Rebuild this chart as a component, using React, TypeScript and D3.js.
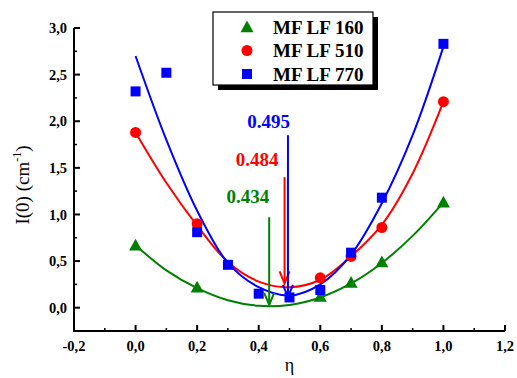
import React from "react";
import * as d3 from "d3";

// measured points
const etaGreen = [0.0, 0.2, 0.6, 0.7, 0.8, 1.0];
const valGreen = [0.67, 0.22, 0.12, 0.27, 0.49, 1.13];
const etaRed = [0.0, 0.2, 0.6, 0.7, 0.8, 1.0];
const valRed = [1.88, 0.9, 0.32, 0.55, 0.86, 2.21];
const etaBlue = [0.0, 0.1, 0.2, 0.3, 0.4, 0.5, 0.6, 0.7, 0.8, 1.0];
const valBlue = [2.32, 2.52, 0.81, 0.46, 0.15, 0.11, 0.19, 0.59, 1.18, 2.83];

// fitted curves
const fitEta = [0.0, 0.1, 0.2, 0.3, 0.4, 0.5, 0.6, 0.7, 0.8, 0.9, 1.0];
const fitGreen = [0.67, 0.4, 0.21, 0.08, 0.02, 0.03, 0.11, 0.26, 0.48, 0.77, 1.13];
const fitRed = [1.88, 1.34, 0.88, 0.49, 0.28, 0.22, 0.3, 0.55, 0.89, 1.44, 2.21];
const fitBlue = [2.7, 1.8, 1.04, 0.48, 0.22, 0.13, 0.25, 0.57, 1.12, 1.85, 2.8];

// minimum arrows: position, top, tip, label
const arrowEta = [0.434, 0.484, 0.495];
const arrowTop = [0.97, 1.4, 1.85];
const arrowTip = [0.03, 0.26, 0.115];
const arrowLabel = ["0.434", "0.484", "0.495"];
const arrowLabelY = [1.12, 1.52, 1.93];
const arrowLabelShift = [0, -6, 2];

const seriesNames = ["MF LF 160", "MF LF 510", "MF LF 770"];
const colors = ["#008000", "#ff0000", "#0000ff"];

const xTicks = [-0.2, 0.0, 0.2, 0.4, 0.6, 0.8, 1.0, 1.2];
const yTicks = [0.0, 0.5, 1.0, 1.5, 2.0, 2.5, 3.0];

const W = 517;
const H = 378;
const serif = "Liberation Serif, Times New Roman, serif";

const fmt = (v: number) => v.toFixed(1).replace(".", ",");

function Marker({ kind, x, y, color }: { kind: number; x: number; y: number; color: string }) {
  if (kind === 0) {
    const s = 6.5;
    return (
      <path
        d={`M${x},${y - s}L${x + s},${y + s * 0.8}L${x - s},${y + s * 0.8}Z`}
        fill={color}
      />
    );
  }
  if (kind === 1) return <circle cx={x} cy={y} r={5.5} fill={color} />;
  return <rect x={x - 5} y={y - 5} width={10} height={10} fill={color} />;
}

export default function App() {
  const x = d3.scaleLinear().domain([-0.2, 1.2]).range([74, 505]);
  const y = d3.scaleLinear().domain([-0.25, 3.0]).range([331, 28]);

  const line = d3
    .line<[number, number]>()
    .x((d) => x(d[0]))
    .y((d) => y(d[1]))
    .curve(d3.curveCatmullRom.alpha(0.5));

  const fits = [fitGreen, fitRed, fitBlue];
  const points = [
    etaGreen.map((e, i) => [e, valGreen[i]]),
    etaRed.map((e, i) => [e, valRed[i]]),
    etaBlue.map((e, i) => [e, valBlue[i]]),
  ];

  const xMinor = d3.range(-0.1, 1.2, 0.2);
  const yMinor = d3.range(0.25, 3.0, 0.5);

  const x0 = x(-0.2);
  const y0 = y(-0.25);

  return (
    <svg
      width={W}
      height={H}
      style={{ position: "absolute", left: 0, top: 0, background: "#fff", fontFamily: serif }}
    >
      {/* fit curves */}
      {fits.map((f, k) => (
        <path
          key={"fit" + k}
          d={line(fitEta.map((e, i) => [e, f[i]] as [number, number])) || ""}
          fill="none"
          stroke={colors[k]}
          strokeWidth={2}
        />
      ))}

      {/* data markers */}
      {points.map((pts, k) =>
        pts.map((p, i) => (
          <Marker key={`m${k}-${i}`} kind={k} x={x(p[0])} y={y(p[1])} color={colors[k]} />
        ))
      )}

      {/* minimum arrows */}
      {arrowEta.map((e, k) => {
        const ax = x(e);
        const top = y(arrowTop[k]);
        const tip = y(arrowTip[k]);
        return (
          <g key={"arr" + k} stroke={colors[k]} strokeWidth={2} fill="none">
            <line x1={ax} x2={ax} y1={top} y2={tip} />
            <polyline points={`${ax - 5},${tip - 12} ${ax},${tip} ${ax + 5},${tip - 12}`} />
            <text
              x={ax + arrowLabelShift[k]}
              y={y(arrowLabelY[k])}
              textAnchor="end"
              fontSize={19}
              fontWeight="bold"
              fill={colors[k]}
              stroke="none"
            >
              {arrowLabel[k]}
            </text>
          </g>
        );
      })}

      {/* axes */}
      <g stroke="#000" strokeWidth={2} fill="none">
        <path d={`M${x0},${y(3.0)}V${y0}H${x(1.2)}`} />
        {xTicks.map((t) => (
          <line key={"xt" + t} x1={x(t)} x2={x(t)} y1={y0} y2={y0 - 6} />
        ))}
        {xMinor.map((t) => (
          <line key={"xm" + t} x1={x(t)} x2={x(t)} y1={y0} y2={y0 - 3} strokeWidth={1.5} />
        ))}
        {yTicks.map((t) => (
          <line key={"yt" + t} x1={x0} x2={x0 + 6} y1={y(t)} y2={y(t)} />
        ))}
        {yMinor.map((t) => (
          <line key={"ym" + t} x1={x0} x2={x0 + 3} y1={y(t)} y2={y(t)} strokeWidth={1.5} />
        ))}
      </g>
      {xTicks.map((t) => (
        <text
          key={"xl" + t}
          x={x(t)}
          y={351}
          textAnchor="middle"
          fontSize={14.5}
          fontWeight="bold"
        >
          {fmt(t)}
        </text>
      ))}
      {yTicks.map((t) => (
        <text
          key={"yl" + t}
          x={67}
          y={y(t)}
          dy="0.35em"
          textAnchor="end"
          fontSize={14.5}
          fontWeight="bold"
        >
          {fmt(t)}
        </text>
      ))}

      {/* axis titles */}
      <text x={x(0.5)} y={371} textAnchor="middle" fontSize={18}>
        η
      </text>
      <text transform="translate(29,185) rotate(-90)" textAnchor="middle" fontSize={19}>
        I(0) (cm<tspan dy={-8} fontSize={12}>-1</tspan>
        <tspan dy={8}>)</tspan>
      </text>

      {/* legend */}
      <rect x={218} y={17} width={160} height={73} fill="#000" />
      <rect x={213} y={12} width={160} height={73} fill="#fff" stroke="#000" strokeWidth={1.2} />
      {seriesNames.map((n, k) => (
        <g key={"lg" + k}>
          <Marker kind={k} x={247} y={27 + k * 23.5} color={colors[k]} />
          <text x={273} y={27 + k * 23.5} dy="0.36em" fontSize={19} fontWeight="bold">
            {n}
          </text>
        </g>
      ))}
    </svg>
  );
}
